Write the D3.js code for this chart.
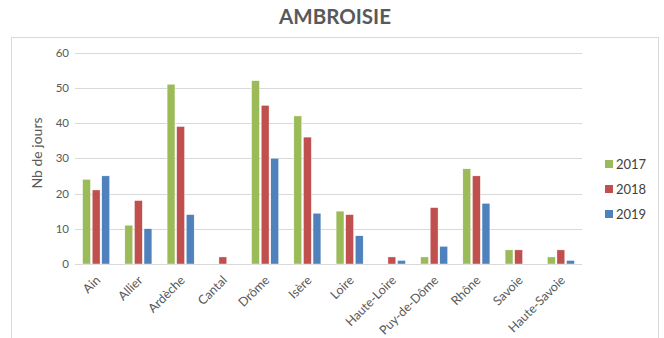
<!DOCTYPE html>
<html><head><meta charset="utf-8">
<script src="https://cdn.jsdelivr.net/npm/d3@7"></script>
<style>body{margin:0;background:#fff;}svg{display:block;font-family:Lato,"Open Sans",sans-serif;}</style>
</head><body><svg id="c" width="664" height="338"></svg>
<script>
const categories = ["Ain","Allier","Ardèche","Cantal","Drôme","Isère","Loire","Haute-Loire","Puy-de-Dôme","Rhône","Savoie","Haute-Savoie"];
const seriesNames = ["2017","2018","2019"];
const values2017 = [24,11,51,0,52,42,15,0,2,27,4,2];
const values2018 = [21,18,39,2,45,36,14,2,16,25,4,4];
const values2019 = [25,10,14,0,30,14.4,8,1,5,17.2,0,1];
const colors = ["#9BBB59","#C0504D","#4F81BD"];
const yTicks = [0,10,20,30,40,50,60];
const title = "AMBROISIE";
const yTitle = "Nb de jours";

const series = [values2017, values2018, values2019];
const svg = d3.select("#c");
svg.append("rect").attr("x",11.5).attr("y",37.5).attr("width",647).attr("height",310)
  .attr("fill","none").attr("stroke","#d9d9d9");
svg.append("text").attr("x",335).attr("y",24).attr("text-anchor","middle")
  .attr("font-size",20.5).attr("font-weight","bold").attr("fill","#595959").text(title);

const x0 = d3.scaleBand().domain(categories).range([75,582]).paddingInner(0.36).paddingOuter(0.18);
const x1 = d3.scaleBand().domain(seriesNames).range([0,x0.bandwidth()]).paddingInner(0.18);
const y = d3.scaleLinear().domain([0,60]).range([264,52.5]);

const g = svg.append("g");
g.selectAll("line.grid").data(yTicks).join("line").attr("class","grid")
  .attr("x1",75).attr("x2",582).attr("y1",d=>Math.round(y(d))+0.5).attr("y2",d=>Math.round(y(d))+0.5)
  .attr("stroke","#d9d9d9").attr("stroke-width",1);
g.selectAll("text.yt").data(yTicks).join("text").attr("class","yt")
  .attr("x",69).attr("y",d=>y(d)).attr("dy","0.35em").attr("text-anchor","end")
  .attr("font-size",11.5).attr("fill","#595959").text(d=>d);

series.forEach((vals,si)=>{
  g.selectAll("rect.s"+si).data(vals).join("rect").attr("class","s"+si)
    .attr("x",(d,i)=>x0(categories[i])+x1(seriesNames[si]))
    .attr("width",x1.bandwidth())
    .attr("y",d=>y(d)).attr("height",d=>y(0)-y(d))
    .attr("fill",colors[si]).attr("stroke","#fff").attr("stroke-width",0.4);
});

g.selectAll("text.xl").data(categories).join("text").attr("class","xl")
  .attr("transform",d=>`translate(${x0(d)+x0.bandwidth()/2+5},${281}) rotate(-45)`)
  .attr("text-anchor","end").attr("font-size",12.5).attr("fill","#595959").text(d=>d);

svg.append("text").attr("transform","translate(42,153) rotate(-90)").attr("text-anchor","middle")
  .attr("font-size",14).attr("fill","#595959").text(yTitle);

const leg = svg.append("g");
seriesNames.forEach((s,i)=>{
  const ly = 164 + i*25;
  leg.append("rect").attr("x",605).attr("y",ly-4).attr("width",8).attr("height",8).attr("fill",colors[i]);
  leg.append("text").attr("x",616).attr("y",ly).attr("dy","0.35em").attr("font-size",13).attr("fill","#404040").text(s);
});
</script></body></html>
